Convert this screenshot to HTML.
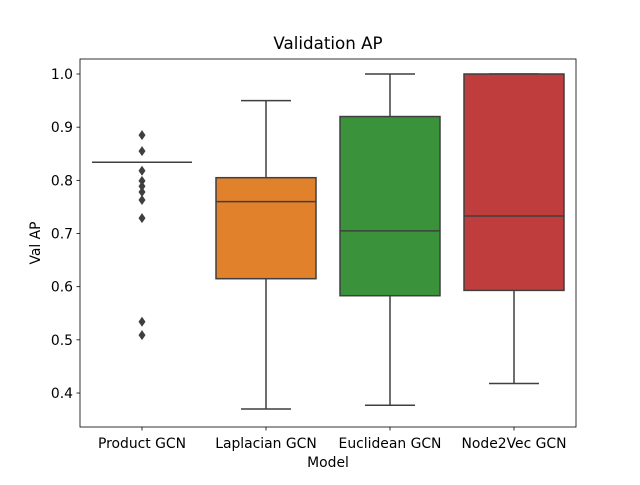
<!DOCTYPE html>
<html><head><meta charset="utf-8"><style>
body{margin:0;background:#fff;}
svg text{font-family:"DejaVu Sans","Liberation Sans",sans-serif;fill:#000;}
</style></head><body>
<svg id="chart" width="640" height="480" xmlns="http://www.w3.org/2000/svg">
<rect width="640" height="480" fill="#fff"/>
<text x="328" y="49" font-size="16.7" text-anchor="middle">Validation AP</text>
<text x="328" y="467" font-size="13.9" text-anchor="middle">Model</text>
<text transform="translate(40,243) rotate(-90)" font-size="13.9" text-anchor="middle">Val AP</text>
<g id="plot"></g>
<rect x="80" y="59" width="496" height="368" fill="none" stroke="#000" stroke-width="0.8"/>
</svg>
<script>
const categories=["Product GCN","Laplacian GCN","Euclidean GCN","Node2Vec GCN"];
const colors=["#3274a1","#e1812c","#3a923a","#c03d3e"];
const whiskerLow=[0.834,0.37,0.377,0.418];
const q1=[0.834,0.615,0.583,0.593];
const medians=[0.834,0.76,0.705,0.733];
const q3=[0.834,0.805,0.92,1.0];
const whiskerHigh=[0.834,0.95,1.0,1.0];
const outliers0=[0.885,0.855,0.818,0.799,0.789,0.778,0.763,0.729,0.534,0.509];
const yTicks=[0.4,0.5,0.6,0.7,0.8,0.9,1.0];
const yTickLabels=["0.4","0.5","0.6","0.7","0.8","0.9","1.0"];
const NS="http://www.w3.org/2000/svg";
const g=document.getElementById('plot');
const y=v=>74+(1.0-v)*531.7;
const x=i=>142+i*124;
function mk(t,a){const e=document.createElementNS(NS,t);for(const k in a)e.setAttribute(k,a[k]);g.appendChild(e);return e;}
yTicks.forEach((v,i)=>{
 const t=mk('line',{x1:76.5,x2:80,y1:y(v),y2:y(v),stroke:'#000','stroke-width':0.8});
 
 
 const l=mk('text',{x:73,y:y(v)+5,'font-size':13.9,'text-anchor':'end'});l.textContent=yTickLabels[i];
 
 
});
categories.forEach((c,i)=>{
 const cx=x(i);const lc='#3f3f3f';
 const t=mk('line',{x1:cx,x2:cx,y1:427,y2:430.5,stroke:'#000','stroke-width':0.8});
 
 
 const l=mk('text',{x:cx,y:448,'font-size':13.9,'text-anchor':'middle'});l.textContent=c;
 
 
 const w1=mk('line',{x1:cx,x2:cx,y1:y(whiskerLow[i]),y2:y(q1[i]),stroke:lc,'stroke-width':1.5});
 
 
 const w2=mk('line',{x1:cx,x2:cx,y1:y(whiskerHigh[i]),y2:y(q3[i]),stroke:lc,'stroke-width':1.5});
 
 
 [whiskerLow[i],whiskerHigh[i]].forEach(v=>{
  const cp=mk('line',{x1:cx-25,x2:cx+25,y1:y(v),y2:y(v),stroke:lc,'stroke-width':1.5});
  
  
 });
 const b=mk('rect',{x:cx-50,y:y(q3[i]),width:100,height:Math.max(0,y(q1[i])-y(q3[i])),fill:colors[i],stroke:lc,'stroke-width':1.5});
 
 
 const m=mk('line',{x1:cx-50,x2:cx+50,y1:y(medians[i]),y2:y(medians[i]),stroke:lc,'stroke-width':1.5});
 
 
});
outliers0.forEach(v=>{
 const cx=x(0),cy=y(v);
 const d=mk('polygon',{points:`${cx},${cy-5} ${cx+3.5},${cy} ${cx},${cy+5} ${cx-3.5},${cy}`,fill:'#3f3f3f'});
 
 
});
</script>
</body></html>
